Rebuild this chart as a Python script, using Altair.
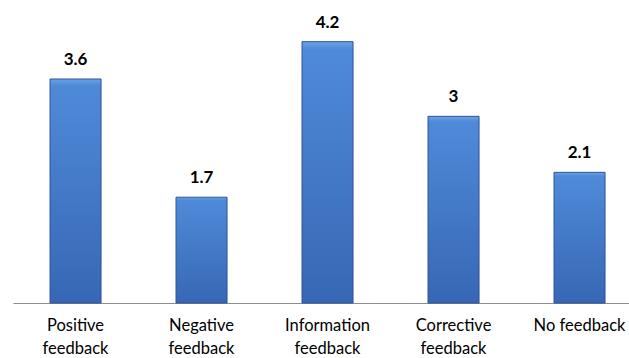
import altair as alt
import pandas as pd

categories = ["Positive feedback", "Negative feedback", "Information feedback",
              "Corrective feedback", "No feedback"]
values = [3.6, 1.7, 4.2, 3, 2.1]

df = pd.DataFrame({"category": categories, "value": values})

x_enc = alt.X(
    "category:N",
    sort=categories,
    title=None,
    scale=alt.Scale(paddingInner=0.595, paddingOuter=0.242, align=0.607),
    axis=alt.Axis(
        labelAngle=0,
        ticks=False,
        domainColor="#8c8c8c",
        domainWidth=1,
        labelColor="#000000",
        labelFont="Lato",
        labelFontSize=16.5,
        labelLineHeight=23,
        labelPadding=14,
        labelBaseline="top",
        labelOverlap=False,
        labelBound=False,
        labelExpr="datum.label == 'No feedback' ? datum.label : split(datum.label, ' ')",
    ),
)
y_enc = alt.Y("value:Q", title=None, scale=alt.Scale(domain=[0, 4.5], nice=False, zero=True),
              axis=None)

bars = alt.Chart(df).mark_bar(
    color=alt.Gradient(
        gradient="linear",
        x1=0, y1=0, x2=0, y2=1,
        stops=[
            alt.GradientStop(offset=0, color="#6aa2e6"),
            alt.GradientStop(offset=0.03, color="#4f8ad9"),
            alt.GradientStop(offset=1, color="#3767b4"),
        ],
    ),
    stroke="#2c5597",
    strokeWidth=1,
).encode(x=x_enc, y=y_enc)

labels = alt.Chart(df).mark_text(
    baseline="bottom", dy=-10, font="Lato", fontSize=17, fontWeight="bold", color="#000000"
).encode(x=alt.X("category:N", sort=categories), y="value:Q", text=alt.Text("value:Q"))

chart = alt.layer(bars, labels).properties(
    width=616,
    height=280,
    autosize=alt.AutoSizeParams(type="none"),
    padding={"left": 13, "right": 0, "top": 23, "bottom": 55},
    background="#ffffff",
).configure_view(stroke=None)

chart.save("out.html", embed_options={"renderer": "svg", "actions": False})
